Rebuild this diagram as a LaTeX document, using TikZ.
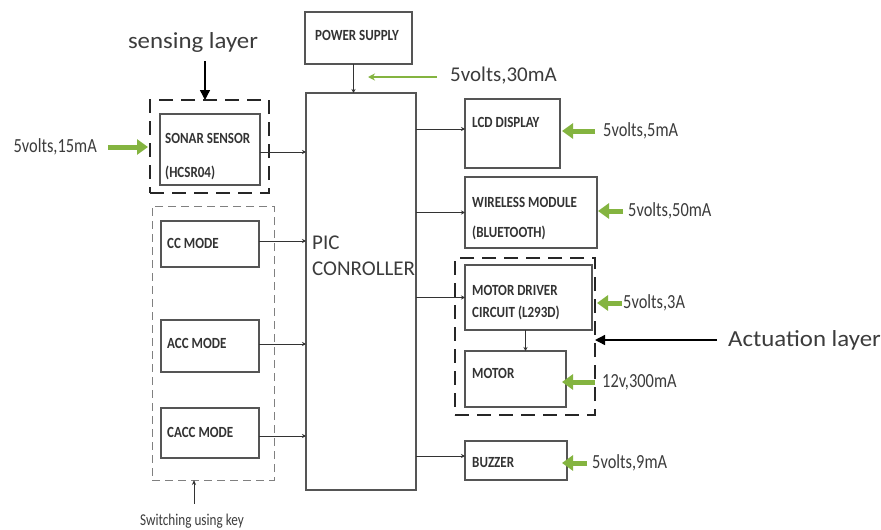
\documentclass[tikz,border=0pt]{standalone}
\usepackage{fontspec}
\setmainfont{Carlito}
\newfontfamily\narrowb[FakeStretch=0.84]{Carlito}
\newfontfamily\narrowr[FakeStretch=0.82]{Carlito}
\newfontfamily\narrowk[FakeStretch=0.8]{Carlito}
\newfontfamily\widef[FakeStretch=1.08]{Carlito}
\usetikzlibrary{arrows.meta}
\definecolor{grn}{RGB}{132,180,64}
\definecolor{ink}{RGB}{60,60,60}
\definecolor{edge}{RGB}{85,85,85}
\tikzset{
  box/.style={draw=edge, line width=1.2pt, rectangle, inner sep=0pt, outer sep=0pt, anchor=north west},
  dashbox/.style={draw=black!85, line width=1.8pt, dash pattern=on 14pt off 8pt, rectangle, inner sep=0pt, outer sep=0pt, anchor=north west},
  lightdash/.style={draw=black!50, line width=0.9pt, dash pattern=on 8pt off 5pt, rectangle, inner sep=0pt, outer sep=0pt, anchor=north west},
  conn/.style={draw=black!80, line width=0.8pt, -{Stealth[length=4pt,width=4pt]}},
  garrow/.style={draw=grn, line width=5pt, -{Triangle[length=11pt,width=15pt]}, shorten <=0pt},
  gthin/.style={draw=grn, line width=1.4pt, -{Stealth[length=7pt,width=7pt]}},
  bigarrow/.style={draw=black, line width=1.4pt, -{Triangle[length=10pt,width=10pt]}},
  upkey/.style={draw=black!80, line width=0.8pt, -{Stealth[length=5pt,width=4pt]}},
  btxt/.style={font=\narrowb\bfseries\fontsize{15.5}{16}\selectfont, text=black!80, inner sep=0pt, anchor=west},
  glbl/.style={font=\narrowr\fontsize{20}{22}\selectfont, text=ink, inner sep=0pt, anchor=west},
  plain/.style={font=\fontsize{20}{22}\selectfont, text=ink, inner sep=0pt, anchor=west},
  layer/.style={font=\widef\fontsize{23}{25}\selectfont, text=ink, inner sep=0pt},
}
\begin{document}
\begin{tikzpicture}[x=1pt,y=-1pt]
\useasboundingbox[fill=white] (0,0) rectangle (881,530);

% boxes
\node[box, minimum width=107pt, minimum height=52pt] (ps) at (305,12) {};
\node[box, minimum width=110pt, minimum height=397pt] (pic) at (306,93) {};
\node[dashbox, minimum width=119pt, minimum height=93pt] (sense) at (150,100) {};
\node[box, minimum width=100pt, minimum height=71pt] (sonar) at (160,114) {};
\node[lightdash, minimum width=122pt, minimum height=274pt] (modes) at (152,206) {};
\node[box, minimum width=98pt, minimum height=46pt] (cc) at (161,221) {};
\node[box, minimum width=98pt, minimum height=52pt] (acc) at (161,320) {};
\node[box, minimum width=98pt, minimum height=50pt] (cacc) at (161,408) {};
\node[box, minimum width=95pt, minimum height=69pt] (lcd) at (465,99) {};
\node[box, minimum width=132pt, minimum height=71pt] (wl) at (465,177) {};
\node[dashbox, minimum width=140pt, minimum height=157pt] (act) at (455,258) {};
\node[box, minimum width=127pt, minimum height=65pt] (md) at (465,265) {};
\node[box, minimum width=101pt, minimum height=56pt] (motor) at (465,351) {};
\node[box, minimum width=102pt, minimum height=39pt] (buz) at (465,441) {};

% box texts
\node[btxt] (tps) at (315,35) {POWER SUPPLY};
\node[btxt] (tson1) at (165,138) {SONAR SENSOR};
\node[btxt] (tson2) at (165,173) {(HCSR04)};
\node[btxt] (tcc) at (167,243) {CC MODE};
\node[btxt] (tacc) at (167,343) {ACC MODE};
\node[btxt] (tcacc) at (167,432) {CACC MODE};
\node[btxt] (tlcd) at (472,122) {LCD DISPLAY};
\node[btxt] (twl1) at (472,202) {WIRELESS MODULE};
\node[btxt] (twl2) at (472,233) {(BLUETOOTH)};
\node[btxt] (tmd1) at (472,290) {MOTOR DRIVER};
\node[btxt] (tmd2) at (472,313) {CIRCUIT (L293D)};
\node[btxt] (tmot) at (472,373) {MOTOR};
\node[btxt] (tbuz) at (472,463) {BUZZER};
\node[plain, font=\fontsize{21}{26}\selectfont, align=left, anchor=north west] (tpic) at (312,236) {PIC\\CONROLLER};

% labels
\node[layer] (senslbl) at (193,42) {sensing layer};
\node[layer, anchor=west] (actlbl) at (728,340) {Actuation layer};
\node[font=\narrowk\fontsize{16.5}{18}\selectfont, text=ink, inner sep=0pt] (swlbl) at (192,521) {Switching using key};
\node[plain, font=\fontsize{21}{22}\selectfont] (g30) at (450,76) {5volts,30mA};
\node[glbl, anchor=east] (gson) at (97,147) {5volts,15mA};
\node[glbl] (glcd) at (603,131) {5volts,5mA};
\node[glbl] (gwl) at (628,211) {5volts,50mA};
\node[glbl] (gmd) at (623,303) {5volts,3A};
\node[glbl] (gmot) at (602,382) {12v,300mA};
\node[glbl] (gbuz) at (592,463) {5volts,9mA};

% connectors
\draw[conn] ([xshift=-5pt]ps.south) -- ([xshift=-5pt]ps.south |- pic.north);
\draw[conn] ([yshift=-2.5pt]sonar.east) -- ([yshift=-2.5pt]sonar.east -| pic.west);
\draw[conn] ([yshift=3pt]cc.east) -- ([yshift=3pt]cc.east -| pic.west);
\draw[conn] ([yshift=2pt]acc.east) -- ([yshift=2pt]acc.east -| pic.west);
\draw[conn] ([yshift=-3pt]cacc.east) -- ([yshift=-3pt]cacc.east -| pic.west);
\draw[conn] ([yshift=4.5pt]lcd.west -| pic.east) -- ([yshift=4.5pt]lcd.west);
\draw[conn] (wl.west -| pic.east) -- (wl.west);
\draw[conn] (md.west -| pic.east) -- (md.west);
\draw[conn] ([yshift=4.5pt]buz.west -| pic.east) -- ([yshift=4.5pt]buz.west);
\draw[conn] ([xshift=-3pt]md.south) -- ([xshift=-3pt]md.south |- motor.north);

% green supply arrows
\draw[gthin] ([xshift=-13pt,yshift=-1pt]g30.west) -- ([xshift=-82pt,yshift=-1pt]g30.west);
\draw[garrow] ([xshift=11pt]gson.east) -- ([xshift=-2pt]gson.east -| sense.west);
\draw[garrow] ([xshift=-8pt]glcd.west) -- ([xshift=2pt]glcd.west -| lcd.east);
\draw[garrow] ([xshift=-5pt]gwl.west) -- ([xshift=1pt]gwl.west -| wl.east);
\draw[garrow] ([xshift=-1pt]gmd.west) -- ([xshift=2pt]gmd.west -| act.east);
\draw[garrow] ([xshift=-7pt]gmot.west) -- ([xshift=-4pt]gmot.west -| motor.east);
\draw[garrow] ([xshift=-5pt]gbuz.west) -- ([xshift=-5pt]gbuz.west -| buz.east);

% layer arrows
\draw[bigarrow] ([xshift=12pt,yshift=-9pt]senslbl.south) -- ([xshift=12pt]senslbl.south |- sense.north);
\draw[bigarrow] ([xshift=-11pt]actlbl.west) -- (actlbl.west -| act.east);
\draw[upkey] ([xshift=2pt,yshift=10pt]swlbl.north) -- ([xshift=2pt]swlbl.north |- modes.south);
\end{tikzpicture}
\end{document}
